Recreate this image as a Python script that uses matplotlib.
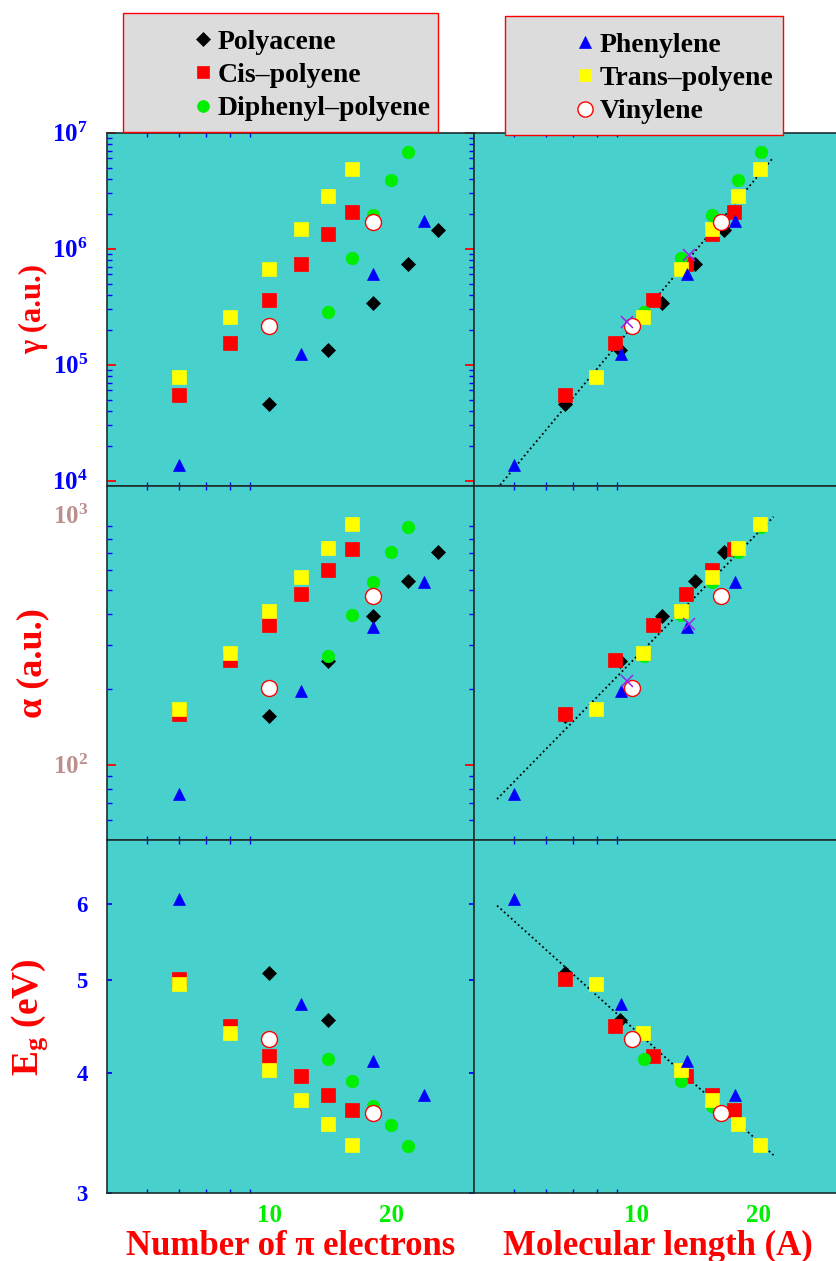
import numpy as np
import matplotlib
matplotlib.use("Agg")
import matplotlib.pyplot as plt
from matplotlib.ticker import FixedLocator, FuncFormatter, NullFormatter
from matplotlib.patches import Rectangle

# ---------------- data ----------------
nan = np.nan
# Polyacene
poly_N = [10, 14, 18, 22, 26]
poly_L = [6.7, 9.15, 11.6, 14.0, 16.45]
poly_gamma = [4.6e4, 1.34e5, 3.4e5, 7.4e5, 1.44e6]
poly_alpha = [156, 260, 392, 541, 708]
poly_eg = [5.09, 4.55, nan, nan, nan]
# Cis-polyene
cis_N = [6, 8, 10, 12, 14, 16]
cis_L = [6.68, 8.88, 10.99, 13.3, 15.35, 17.43]
cis_gamma = [5.44e4, 1.53e5, 3.61e5, 7.42e5, 1.35e6, 2.08e6]
cis_alpha = [160, 261, 361, 482, 599, 728]
cis_eg = [5.01, 4.48, 4.17, 3.97, 3.80, 3.66]
# Diphenyl-polyene
dip_N = [14, 16, 18, 20, 22]
dip_L = [10.45, 12.9, 15.4, 17.8, 20.3]
dip_gamma = [2.86e5, 8.26e5, 1.95e6, 3.88e6, 6.81e6]
dip_alpha = [273, 395, 538, 706, 891]
dip_eg = [4.14, 3.93, 3.70, 3.53, 3.36]
# Trans-polyene
trans_N = [6, 8, 10, 12, 14, 16]
trans_L = [7.96, 10.43, 12.88, 15.35, 17.78, 20.2]
trans_gamma = [7.8e4, 2.59e5, 6.7e5, 1.47e6, 2.83e6, 4.83e6]
trans_alpha = [167, 279, 410, 563, 735, 916]
trans_eg = [4.96, 4.41, 4.03, 3.75, 3.54, 3.37]
# Phenylene
phen_N = [6, 12, 18, 24]
phen_L = [5.0, 9.2, 13.35, 17.55]
phen_gamma = [1.36e4, 1.24e5, 6.05e5, 1.74e6]
phen_alpha = [76.6, 197, 355, 536]
phen_eg = [6.08, 4.72, 4.12, 3.80]
# Vinylene
vin_N = [10, 18]
vin_L = [9.75, 16.2]
vin_gamma = [2.17e5, 1.71e6]
vin_alpha = [202, 471]
vin_eg = [4.34, 3.64]
# extra unlabelled points (purple crosses, length panels only)
cross_L = [9.5, 13.5]
cross_gamma = [2.32e5, 8.8e5]
cross_alpha = [216, 366]

# power-law fits vs molecular length: y = A * L**b
fit_L_range = [4.55, 21.8]
fit_gamma = (14.7, 4.2)
fit_alpha = (5.91, 1.658)
fit_eg = (10.67, -0.382)

x_ticks = [10, 20]
x_minor = [5, 6, 7, 8, 9]
gamma_ticks = [1e4, 1e5, 1e6, 1e7]
alpha_ticks = [1e2, 1e3]
alpha_minor = [60, 70, 80, 90, 200, 300, 400, 500, 600, 700, 800, 900]
eg_ticks = [3, 4, 5, 6]

# ---------------- style ----------------
plt.rcParams['font.family'] = ['Liberation Serif', 'DejaVu Serif']
plt.rcParams['font.weight'] = 'bold'
plt.rcParams['mathtext.default'] = 'regular'

W, H = 836, 1261
fig = plt.figure(figsize=(W / 100, H / 100), dpi=100)

def rect(x0, y0, x1, y1):
    return [x0 / W, 1 - y1 / H, (x1 - x0) / W, (y1 - y0) / H]

BG = '#48d1cc'
col_x = [(107.3, 474.3), (474.3, 841.3)]
row_y = [(132.7, 486.0), (486.0, 840.0), (840.0, 1193.3)]

series = [
    dict(label='Polyacene', N=poly_N, L=poly_L, vals=[poly_gamma, poly_alpha, poly_eg],
         marker='D', ms=7.2, mfc='black', mec='black', mew=0.5),
    dict(label='Cis–polyene', N=cis_N, L=cis_L, vals=[cis_gamma, cis_alpha, cis_eg],
         marker='s', ms=9.5, mfc='#ff0000', mec='#ff0000', mew=0.5),
    dict(label='Diphenyl–polyene', N=dip_N, L=dip_L, vals=[dip_gamma, dip_alpha, dip_eg],
         marker='o', ms=9, mfc='#00ee00', mec='#00ee00', mew=0.5),
    dict(label='Trans–polyene', N=trans_N, L=trans_L, vals=[trans_gamma, trans_alpha, trans_eg],
         marker='s', ms=9.5, mfc='#ffff00', mec='#ffff00', mew=0.5),
    dict(label='Phenylene', N=phen_N, L=phen_L, vals=[phen_gamma, phen_alpha, phen_eg],
         marker='^', ms=9, mfc='#0000ff', mec='#0000ff', mew=0.5),
    dict(label='Vinylene', N=vin_N, L=vin_L, vals=[vin_gamma, vin_alpha, vin_eg],
         marker='o', ms=11.5, mfc='white', mec='#ff0000', mew=1.0),
]
fits = [fit_gamma, fit_alpha, fit_eg]
crosses = [cross_gamma, cross_alpha, None]

ylims = [(9e3, 1e7), (50, 1300), (3, 7)]
ylabels = ['γ (a.u.)', 'α (a.u.)', 'E$_g$ (eV)']
ylabel_size = [22, 26, 27]
ylabel_x = [34, 33, 30]
ytick_color = ['#0000ff', '#bc8f8f', '#0000ff']
ytick_size = [18, 18, 16.5]
xlabels = ['Number of π electrons', 'Molecular length (A)']

def pow10(v, p):
    return '$10^{%d}$' % int(round(np.log10(v)))

handles = {}
axes = {}
for r in range(3):
    for c in range(2):
        x0, x1 = col_x[c]
        y0, y1 = row_y[r]
        ax = fig.add_axes(rect(x0, y0, x1, y1))
        axes[(r, c)] = ax
        ax.set_facecolor(BG)
        for s in ax.spines.values():
            s.set_color('#1e2e2e')
            s.set_linewidth(1.2)
        for sdef in series:
            xs = sdef['N'] if c == 0 else sdef['L']
            h, = ax.plot(xs, sdef['vals'][r], linestyle='none', marker=sdef['marker'],
                         ms=sdef['ms'], mfc=sdef['mfc'], mec=sdef['mec'], mew=sdef['mew'],
                         label=sdef['label'])
            handles[sdef['label']] = h
        if c == 1:
            A, b = fits[r]
            Lf = np.geomspace(fit_L_range[0], fit_L_range[1], 50)
            ax.plot(Lf, A * Lf ** b, color='black', linestyle=(0, (1, 1.6)), lw=1.3, zorder=1.5)
            if crosses[r] is not None:
                ax.plot(cross_L, crosses[r], linestyle='none', marker='x', ms=9, mew=1.1,
                        color='#a020f0')
        # x axis
        ax.set_xscale('log')
        ax.set_xlim(4, 32)
        ax.xaxis.set_major_locator(FixedLocator(x_ticks))
        ax.xaxis.set_major_formatter(FuncFormatter(lambda v, p: '%d' % v))
        ax.xaxis.set_minor_locator(FixedLocator(x_minor))
        ax.xaxis.set_minor_formatter(NullFormatter())
        ax.tick_params(axis='x', which='major', length=0, labelsize=18,
                       labelcolor='#00ee00', pad=8)
        ax.tick_params(axis='x', which='minor', direction='in', top=True, bottom=True,
                       length=3.2, width=1.0, color='#0000ff')
        if r < 2:
            ax.tick_params(axis='x', labelbottom=False)
        else:
            ax.set_xlabel(xlabels[c], color='#ff0000', fontsize=25, fontweight='bold')
            ax.xaxis.set_label_coords(0.5, (1193.3 - 1255) / 353.3)
            ax.xaxis.label.set_va('baseline')
        # y axis
        ax.set_yscale('log')
        ax.set_ylim(*ylims[r])
        if r == 0:
            ax.yaxis.set_major_locator(FixedLocator(gamma_ticks))
            ax.yaxis.set_major_formatter(FuncFormatter(pow10))
            ax.yaxis.set_minor_locator(FixedLocator(
                [m * 10 ** e for e in range(3, 7) for m in range(2, 10)]))
            maj_col, maj_len = '#ff0000', 6.7
        elif r == 1:
            ax.yaxis.set_major_locator(FixedLocator(alpha_ticks))
            ax.yaxis.set_major_formatter(FuncFormatter(pow10))
            ax.yaxis.set_minor_locator(FixedLocator(alpha_minor))
            maj_col, maj_len = '#ff0000', 6.7
        else:
            ax.yaxis.set_major_locator(FixedLocator(eg_ticks))
            ax.yaxis.set_major_formatter(FuncFormatter(lambda v, p: '%d' % v))
            ax.yaxis.set_minor_locator(FixedLocator([]))
            maj_col, maj_len = '#0000ff', 3.4
        ax.yaxis.set_minor_formatter(NullFormatter())
        if c == 0:
            ax.tick_params(axis='y', which='both', direction='in', left=True, right=True,
                           labelleft=True, labelright=False)
            ax.tick_params(axis='y', which='major', length=maj_len, width=1.3, color=maj_col,
                           labelsize=ytick_size[r], labelcolor=ytick_color[r], pad=14)
            ax.tick_params(axis='y', which='minor', length=3.4, width=1.0, color='#0000ff')
            ax.set_ylabel(ylabels[r], color='#ff0000', fontsize=ylabel_size[r],
                          fontweight='bold')
            ax.yaxis.set_label_coords((ylabel_x[r] - 107.3) / 367, 0.5)
            ax.yaxis.label.set_va('center')
            if r == 1:
                # the 10^3 level carries a label but no tick mark in the original
                mt = ax.yaxis.get_major_ticks()
                mt[1].tick1line.set_visible(False)
                mt[1].tick2line.set_visible(False)
        else:
            ax.tick_params(axis='y', which='both', left=False, right=False,
                           labelleft=False, labelright=False)

# ---------------- legend boxes ----------------
for (bx0, by0, bx1, by1) in [(123.3, 12.7, 437.7, 132.3), (505.0, 16.0, 783.3, 135.0)]:
    fig.add_artist(Rectangle((bx0 / W, 1 - by1 / H), (bx1 - bx0) / W, (by1 - by0) / H,
                             transform=fig.transFigure, facecolor='#dcdcdc',
                             edgecolor='#ff0000', lw=1.0, zorder=5))

leg_groups = [(['Polyacene', 'Cis–polyene', 'Diphenyl–polyene'], 192.0, 29.5),
              (['Phenylene', 'Trans–polyene', 'Vinylene'], 574.0, 32.5)]
for labels, lx, ly in leg_groups:
    hs = [handles[l] for l in labels]
    leg = fig.legend(hs, labels, loc='upper left', bbox_to_anchor=(lx / W, 1 - ly / H),
                     frameon=False, borderpad=0, borderaxespad=0, handlelength=0.78,
                     handletextpad=0.15, labelspacing=0.28, markerscale=0.95,
                     prop=dict(family='Liberation Serif', weight='bold', size=20))
    leg.set_zorder(6)

fig.savefig('out.png', dpi=100)
